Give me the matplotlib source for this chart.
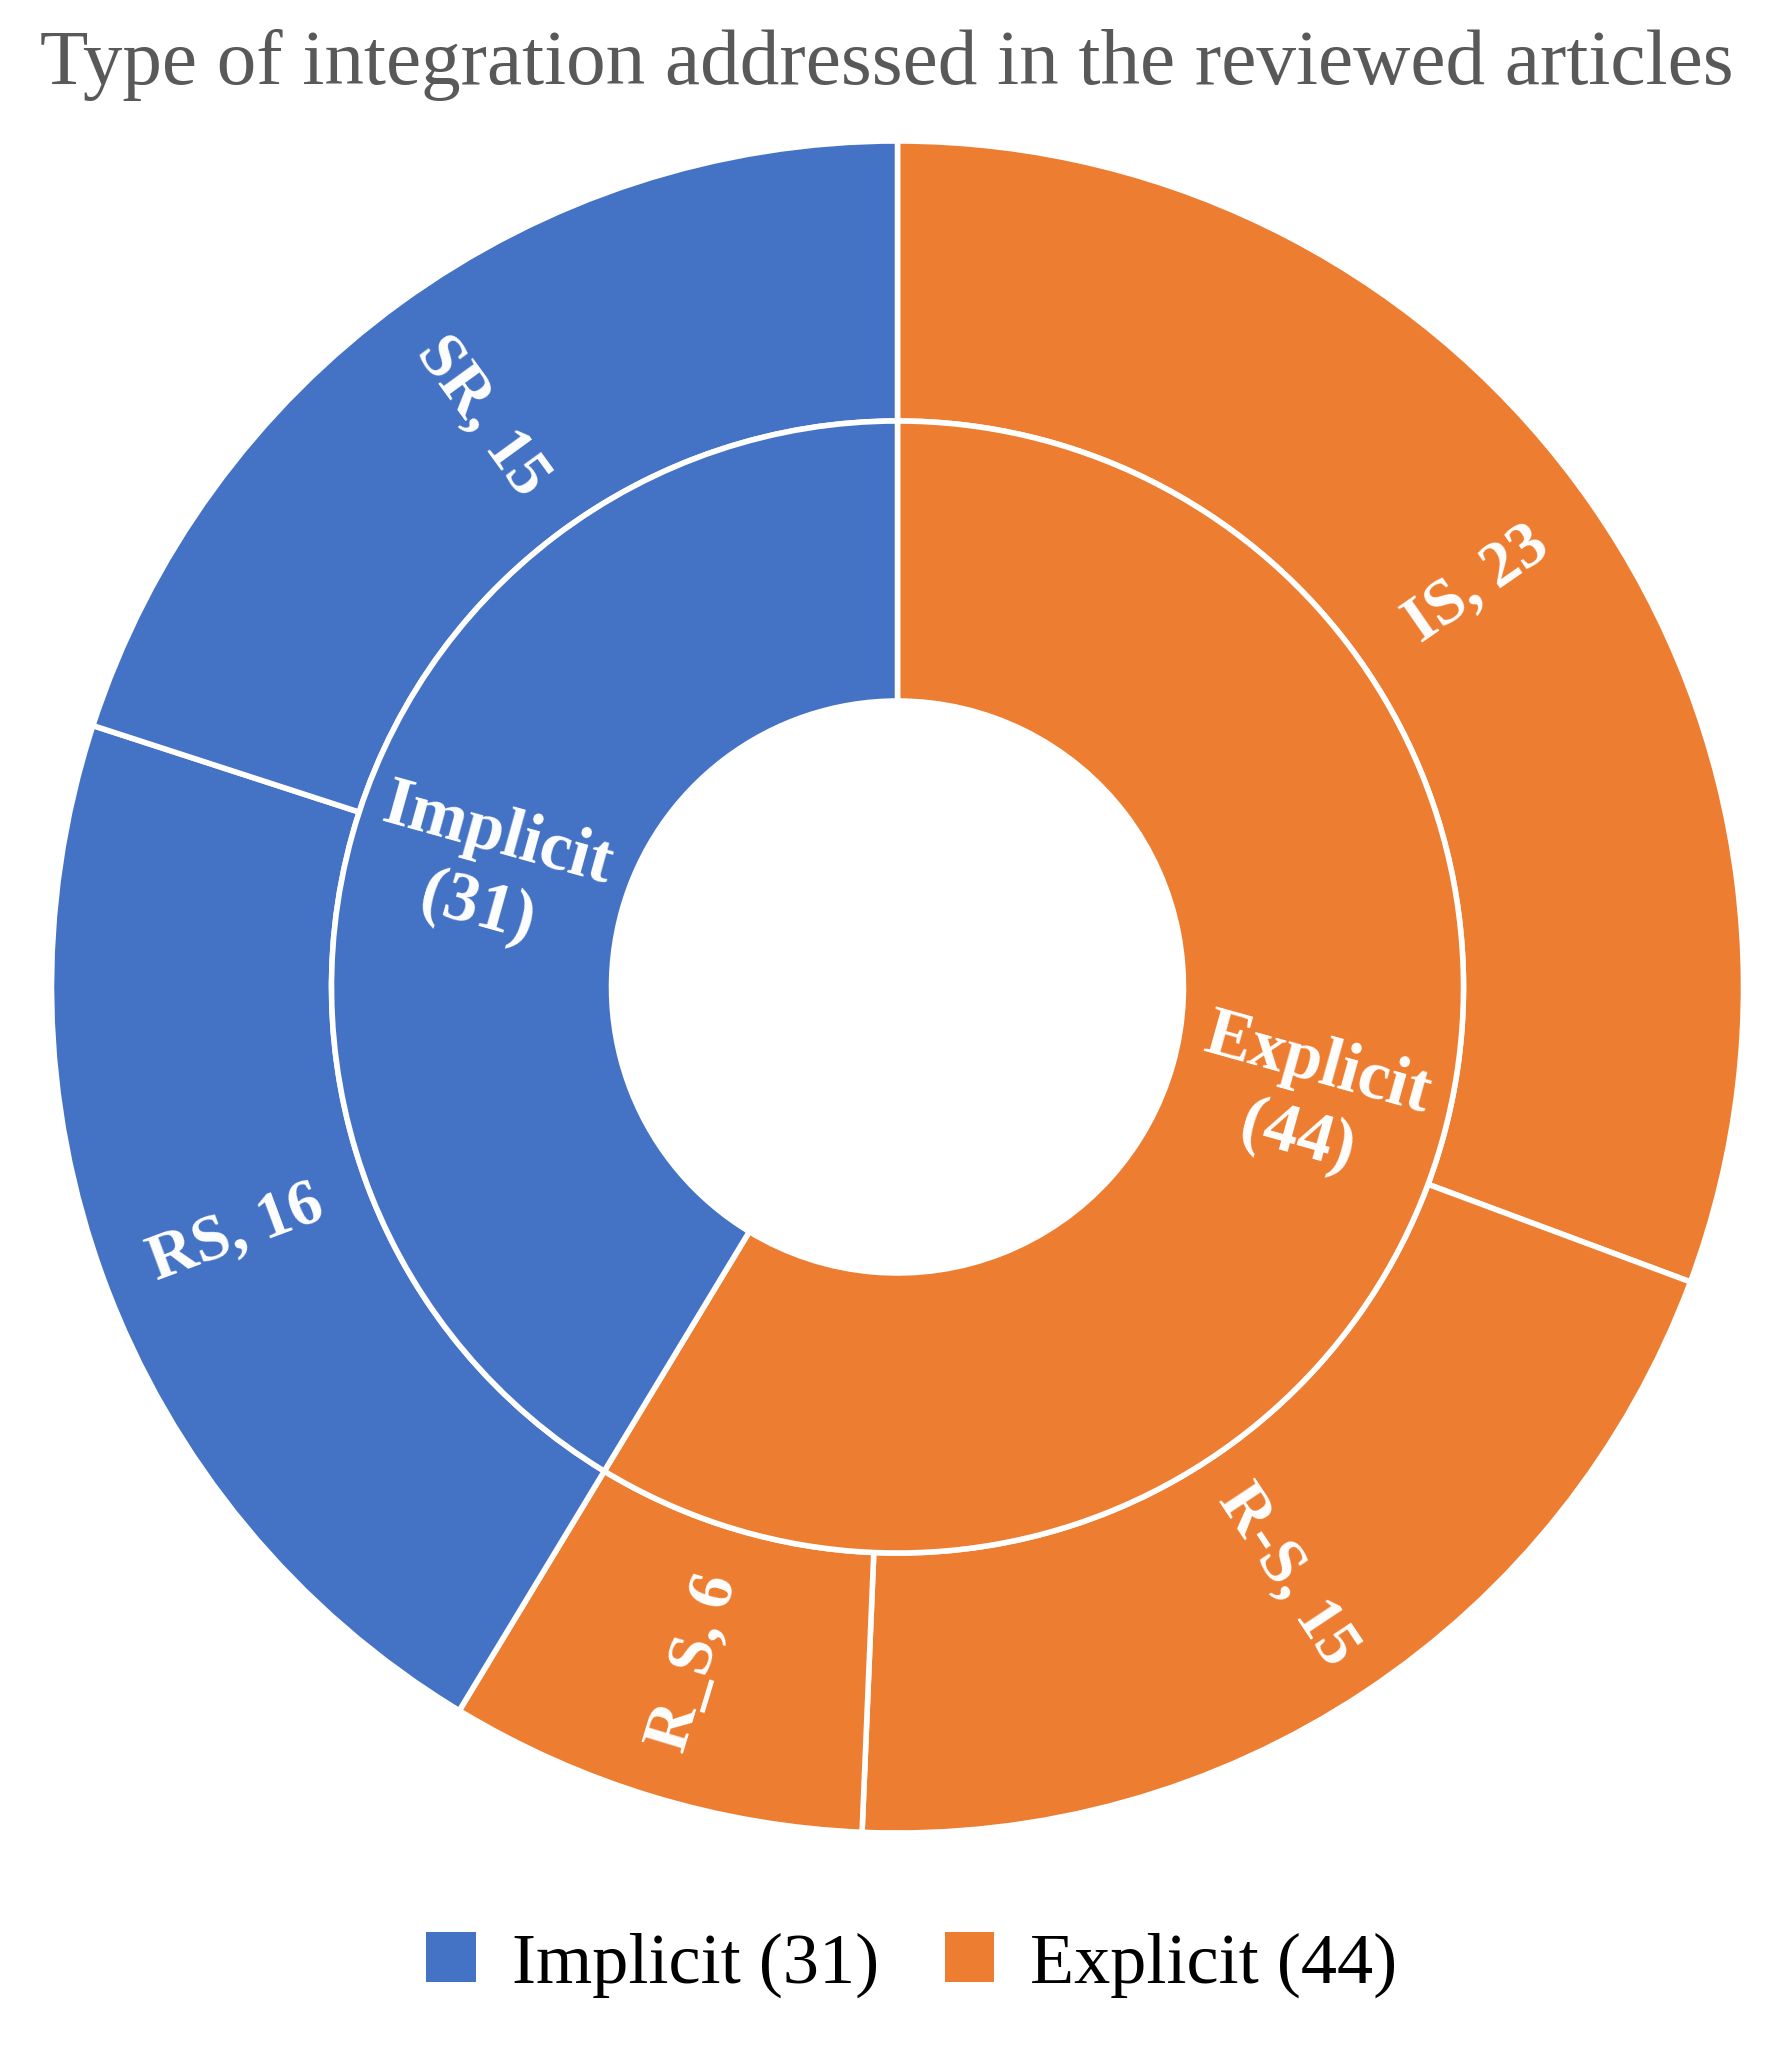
import matplotlib.pyplot as plt
import numpy as np
from matplotlib.patches import Patch

# data
groups = ["Explicit", "Implicit"]
group_counts = np.array([44, 31])
subtypes = ["IS", "R-S", "R_S", "RS", "SR"]
subtype_counts = np.array([23, 15, 6, 16, 15])
subtype_group = [0, 0, 0, 1, 1]  # index into groups

title = "Type of integration addressed in the reviewed articles"

# style
group_colors = ["#ED7D31", "#4472C4"]
plt.rcParams["font.family"] = ["Liberation Serif", "DejaVu Serif"]

W, H = 1768, 2046
fig = plt.figure(figsize=(W / 100, H / 100), dpi=100)
ax = fig.add_axes([0, 0, 1, 1])

cx, cy = 897.5, H - 987
r_out, r_mid, r_in = 846, 566, 286
edge = dict(edgecolor="white", linewidth=4)

ax.pie(
    subtype_counts,
    radius=r_out,
    center=(cx, cy),
    startangle=90,
    counterclock=False,
    colors=[group_colors[g] for g in subtype_group],
    wedgeprops=dict(width=r_out - r_mid, **edge),
)
ax.pie(
    group_counts,
    radius=r_mid,
    center=(cx, cy),
    startangle=90,
    counterclock=False,
    colors=group_colors,
    wedgeprops=dict(width=r_mid - r_in, **edge),
)


def mid_angles(counts):
    start = np.cumsum(counts) - counts
    mid = (start + counts / 2) / counts.sum() * 360
    return 90 - mid  # degrees, math convention


def radial_rot(theta):
    rot = (theta + 180) % 360 - 180
    if rot > 90:
        rot -= 180
    elif rot < -90:
        rot += 180
    return rot


# outer labels
r_lab = (r_out + r_mid) / 2
for name, val, th in zip(subtypes, subtype_counts, mid_angles(subtype_counts)):
    t = np.radians(th)
    ax.text(
        cx + r_lab * np.cos(t),
        cy + r_lab * np.sin(t),
        f"{name}, {val}",
        rotation=radial_rot(th),
        rotation_mode="anchor",
        ha="center",
        va="center",
        color="white",
        fontweight="bold",
        fontsize=47,
    )

# inner labels
r_lab = (r_mid + r_in) / 2
for name, val, th in zip(groups, group_counts, mid_angles(group_counts)):
    t = np.radians(th)
    ax.text(
        cx + r_lab * np.cos(t),
        cy + r_lab * np.sin(t),
        f"{name}\n({val})",
        rotation=radial_rot(th),
        rotation_mode="anchor",
        ha="center",
        va="center",
        multialignment="center",
        linespacing=1.25,
        color="white",
        fontweight="bold",
        fontsize=50,
    )

ax.set_xlim(0, W)
ax.set_ylim(0, H)
ax.set_aspect("equal")
ax.axis("off")

fig.text(887 / W, 1 - 65 / H, title, ha="center", va="center",
         color="#595959", fontsize=57)

handles = [
    Patch(facecolor=group_colors[i], label=f"{groups[i]} ({group_counts[i]})")
    for i in (1, 0)
]
fig.legend(
    handles=handles,
    loc="center",
    bbox_to_anchor=(912 / W, 1 - 1965 / H),
    ncol=2,
    frameon=False,
    fontsize=52,
    handlelength=0.69,
    handleheight=0.69,
    handletextpad=0.5,
    columnspacing=0.9,
)

fig.savefig("out.png", dpi=100)
